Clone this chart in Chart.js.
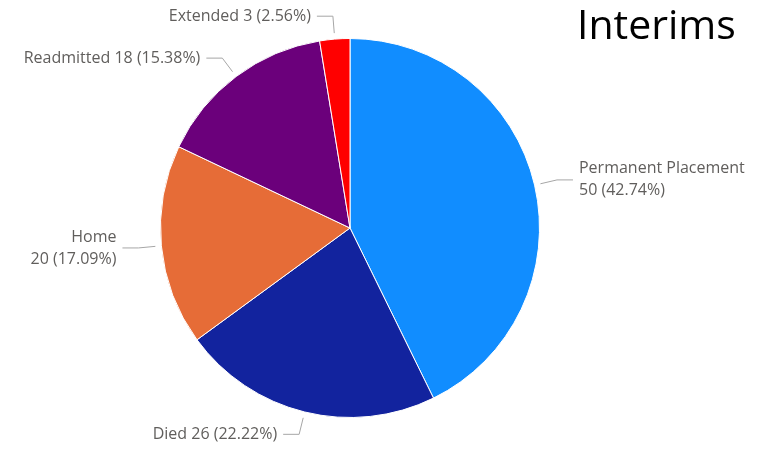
<!DOCTYPE html>
<html>
<head>
<meta charset="utf-8">
<script src="https://cdn.jsdelivr.net/npm/chart.js@4"></script>
<style>
  html, body { margin: 0; padding: 0; background: #fff; }
  #wrap { width: 767px; height: 451px; position: relative; }
</style>
</head>
<body>
<div id="wrap"><canvas id="pie"></canvas></div>
<script>
// outcome data
const categories = ['Permanent Placement', 'Died', 'Home', 'Readmitted', 'Extended'];
const counts = [50, 26, 20, 18, 3];
const percents = ['42.74%', '22.22%', '17.09%', '15.38%', '2.56%'];
const sliceColors = ['#118DFF', '#12239E', '#E66C37', '#6B007B', '#FF0000'];
// which labels wrap onto two lines
const twoLine = [true, false, true, false, false];

// leader lines + data labels, drawn after the arcs
const labelPlugin = {
  id: 'pieLabels',
  afterDraw(chart) {
    const ctx = chart.ctx;
    const arcs = chart.getDatasetMeta(0).data;
    ctx.save();
    ctx.font = '16px "Open Sans", sans-serif';
    ctx.fillStyle = '#605E5C';
    ctx.strokeStyle = '#a6a6a6';
    ctx.lineWidth = 1;
    ctx.textBaseline = 'middle';
    arcs.forEach((arc, i) => {
      const { x, y, outerRadius, startAngle, endAngle } = arc.getProps(['x', 'y', 'outerRadius', 'startAngle', 'endAngle'], true);
      const mid = (startAngle + endAngle) / 2;
      const cos = Math.cos(mid), sin = Math.sin(mid);
      const right = cos >= 0;
      const x0 = x + cos * (outerRadius + 6), y0 = y + sin * (outerRadius + 6);
      const x1 = x + cos * (outerRadius + 23), y1 = y + sin * (outerRadius + 23);
      const x2 = x1 + (right ? 16 : -16);
      ctx.beginPath();
      ctx.moveTo(x0, y0);
      ctx.lineTo(x1, y1);
      ctx.lineTo(x2, y1);
      ctx.stroke();
      ctx.textAlign = right ? 'left' : 'right';
      const tx = x2 + (right ? 6 : -6);
      const valText = counts[i] + ' (' + percents[i] + ')';
      if (twoLine[i]) {
        ctx.fillText(categories[i], tx, y1 - 11);
        ctx.fillText(valText, tx, y1 + 11);
      } else {
        ctx.fillText(categories[i] + ' ' + valText, tx, y1);
      }
    });
    // title
    ctx.fillStyle = '#000';
    ctx.font = '41px "Open Sans", sans-serif';
    ctx.textAlign = 'left';
    ctx.textBaseline = 'alphabetic';
    ctx.fillText('Interims', 577, 39);
    ctx.restore();
  }
};

new Chart(document.getElementById('pie'), {
  type: 'pie',
  data: {
    labels: categories,
    datasets: [{
      data: counts,
      backgroundColor: sliceColors,
      borderColor: '#ffffff',
      borderWidth: 1,
    }],
  },
  options: {
    responsive: true,
    maintainAspectRatio: false,
    animation: false,
    layout: { padding: { left: 160, right: 227, top: 38, bottom: 33 } },
    plugins: {
      legend: { display: false },
      tooltip: { enabled: false },
    },
  },
  plugins: [labelPlugin],
});
</script>
</body>
</html>
